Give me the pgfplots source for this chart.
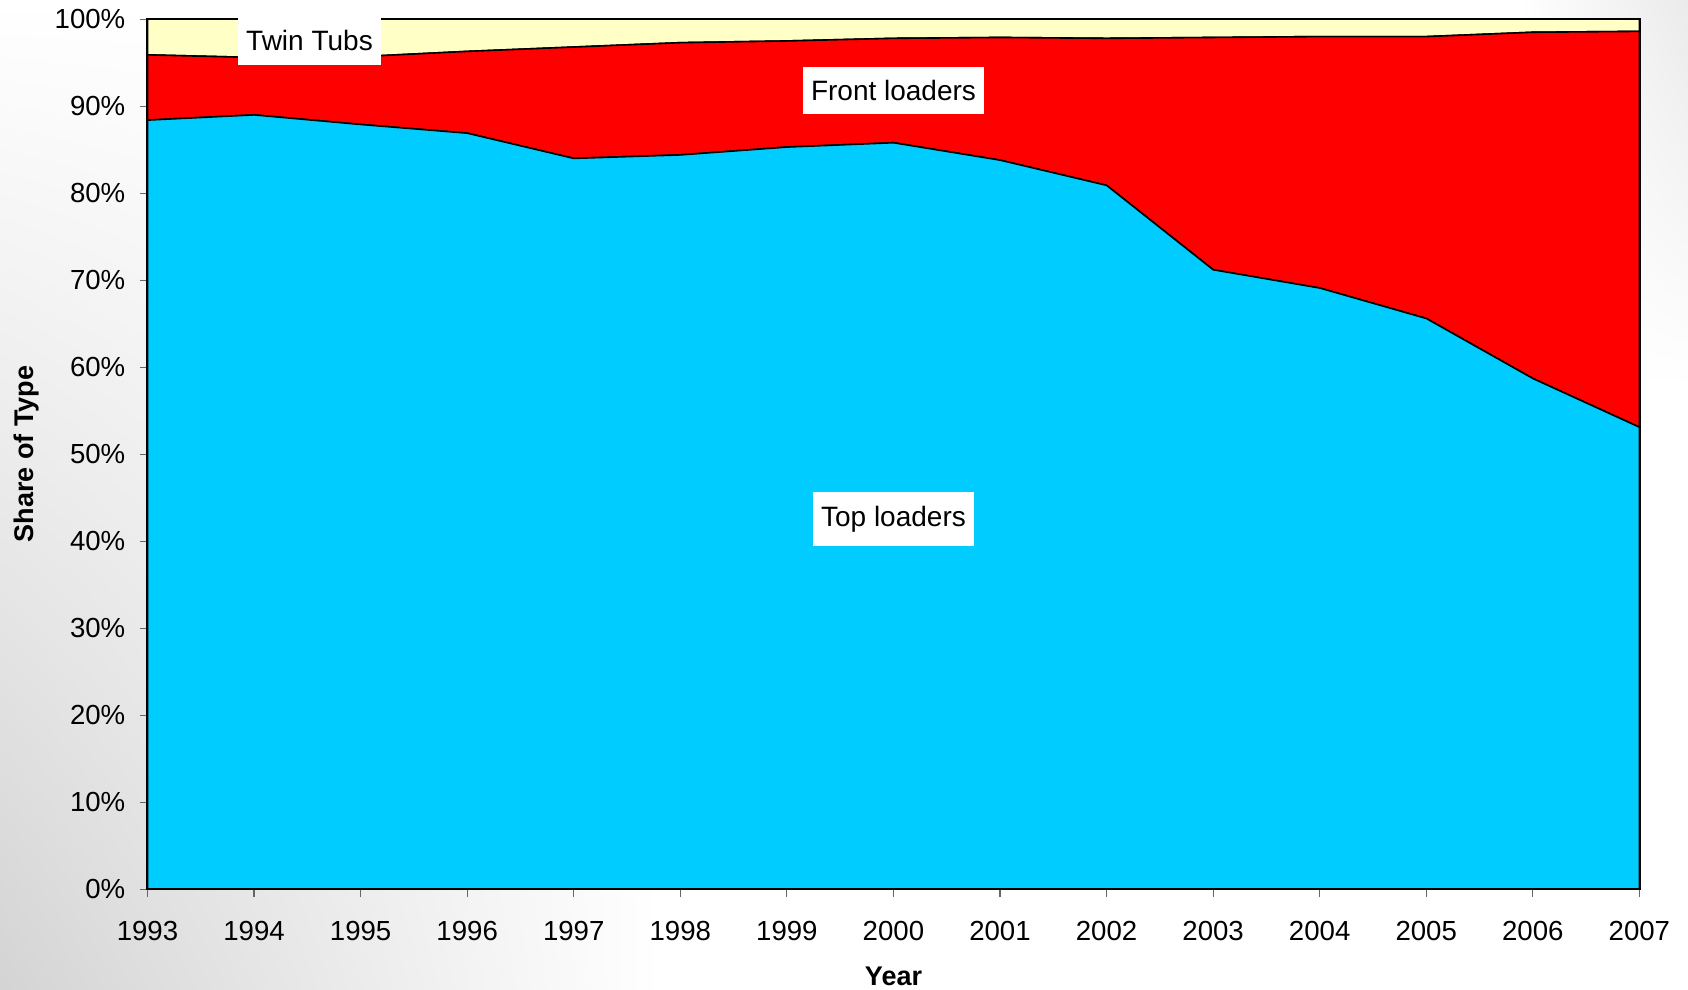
\documentclass[border=0pt]{standalone}
\usepackage{pgfplots}
\pgfplotsset{compat=1.18}
\usepackage{pgfplotstable}
\usetikzlibrary{shadings}
\usepackage{fontspec}
\setmainfont{Liberation Sans}
\definecolor{toploader}{HTML}{00CCFF}
\definecolor{frontloader}{HTML}{FF0000}
\definecolor{twintub}{HTML}{FFFFC6}
\pgfplotstableread{
year top front twin
1993 88.4 7.5 4.1
1994 89.0 6.6 4.4
1995 87.9 7.8 4.3
1996 86.9 9.4 3.7
1997 84.0 12.8 3.2
1998 84.4 12.9 2.7
1999 85.3 12.2 2.5
2000 85.8 12.0 2.2
2001 83.8 14.1 2.1
2002 80.9 16.9 2.2
2003 71.2 26.7 2.1
2004 69.1 28.9 2.0
2005 65.6 32.4 2.0
2006 58.7 39.8 1.5
2007 53.1 45.5 1.4
}\datatable
\begin{document}
\begin{tikzpicture}
\useasboundingbox (0,0) rectangle (844pt,495pt);
\shade[lower left=black!17, upper left=white, lower right=white, upper right=white] (0,0) rectangle (330pt,495pt);
\shade[upper right=black!8, upper left=white, lower right=white, lower left=white] (760pt,300pt) rectangle (844pt,495pt);
\begin{axis}[
  at={(73.75pt,50.4pt)}, anchor=south west,
  scale only axis,
  width=746pt, height=435pt,
  xmin=1993, xmax=2007, ymin=0, ymax=100,
  stack plots=y,
  axis on top,
  axis line style={black, line width=1pt},
  xtick={1993,...,2007},
  xticklabels={1993,1994,1995,1996,1997,1998,1999,2000,2001,2002,2003,2004,2005,2006,2007},
  ytick={0,10,...,100},
  yticklabels={0\%,10\%,20\%,30\%,40\%,50\%,60\%,70\%,80\%,90\%,100\%},
  tick align=outside,
  tick pos=left,
  major tick length=4pt,
  tick style={gray!80!black, line width=0.6pt},
  ticklabel style={font=\fontsize{13.8}{16}\selectfont},
  xticklabel style={yshift=-8.5pt},
  yticklabel style={xshift=-3.6pt},
  xlabel={\textbf{Year}},
  ylabel={\textbf{Share of Type}},
  label style={font=\fontsize{13.5}{16}\selectfont},
  xlabel style={yshift=-6pt},
  ylabel style={yshift=1pt},
  clip=true,
]
\addplot[fill=toploader, draw=black, line width=0.8pt] table[x=year, y=top] {\datatable} \closedcycle;
\addplot[fill=frontloader, draw=black, line width=0.8pt] table[x=year, y=front] {\datatable} \closedcycle;
\addplot[fill=twintub, draw=black, line width=0.8pt] table[x=year, y=twin] {\datatable} \closedcycle;
\coordinate (tt) at (rel axis cs:0.10857,0.975);
\coordinate (fl) at (rel axis cs:0.5,0.918);
\coordinate (tl) at (rel axis cs:0.5,0.4255);
\end{axis}
\tikzset{lbl/.style={fill=white, inner xsep=4pt, inner ysep=6.8pt, font=\fontsize{14}{16}\selectfont}}
\node[lbl] at (tt) {Twin Tubs};
\node[lbl] at (fl) {Front loaders};
\node[lbl] at (tl) {Top loaders};
\end{tikzpicture}
\end{document}
